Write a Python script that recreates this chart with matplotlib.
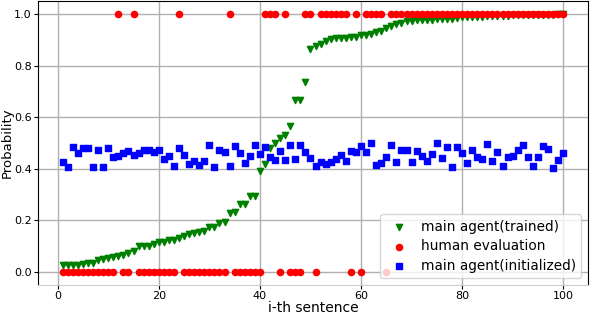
import numpy as np
import matplotlib
matplotlib.use("Agg")
import matplotlib.pyplot as plt

# sentence index
sentences = list(range(1, 101))

# main agent (trained) probabilities
trained = [0.026, 0.026, 0.027, 0.029, 0.031, 0.036, 0.037, 0.045, 0.049, 0.055,
           0.058, 0.063, 0.067, 0.075, 0.080, 0.100, 0.100, 0.103, 0.107, 0.117,
           0.118, 0.123, 0.126, 0.131, 0.139, 0.148, 0.152, 0.156, 0.160, 0.174,
           0.174, 0.190, 0.195, 0.230, 0.234, 0.265, 0.265, 0.294, 0.294, 0.390,
           0.420, 0.480, 0.500, 0.520, 0.530, 0.567, 0.667, 0.667, 0.736, 0.865,
           0.874, 0.883, 0.893, 0.902, 0.905, 0.906, 0.908, 0.910, 0.912, 0.919,
           0.919, 0.922, 0.930, 0.934, 0.946, 0.954, 0.960, 0.964, 0.972, 0.974,
           0.976, 0.977, 0.978, 0.978, 0.979, 0.980, 0.981, 0.982, 0.985, 0.986,
           0.987, 0.988, 0.988, 0.989, 0.990, 0.991, 0.992, 0.993, 0.993, 0.994,
           0.994, 0.995, 0.995, 0.996, 0.996, 0.997, 0.997, 0.997, 0.998, 0.998]

# human evaluation (0/1): sentences judged positive
human_ones = [12, 15, 24, 34, 41, 42, 43, 45, 49, 50, 52, 53, 54, 55, 56, 57,
              59, 61, 62, 63, 64] + list(range(66, 101))
human = [1 if s in human_ones else 0 for s in sentences]

# main agent (initialized) probabilities
initialized = [0.425, 0.406, 0.485, 0.461, 0.481, 0.481, 0.406, 0.474, 0.406, 0.481,
               0.446, 0.451, 0.461, 0.468, 0.454, 0.461, 0.472, 0.474, 0.465, 0.472,
               0.438, 0.448, 0.411, 0.481, 0.452, 0.419, 0.429, 0.414, 0.429, 0.491,
               0.407, 0.471, 0.465, 0.411, 0.490, 0.461, 0.423, 0.451, 0.491, 0.456,
               0.484, 0.446, 0.433, 0.468, 0.436, 0.491, 0.438, 0.491, 0.464, 0.442,
               0.412, 0.427, 0.420, 0.428, 0.438, 0.452, 0.429, 0.468, 0.465, 0.490,
               0.464, 0.500, 0.414, 0.423, 0.446, 0.491, 0.428, 0.474, 0.474, 0.428,
               0.470, 0.450, 0.432, 0.459, 0.500, 0.442, 0.485, 0.407, 0.485, 0.461,
               0.423, 0.474, 0.446, 0.438, 0.495, 0.429, 0.464, 0.412, 0.446, 0.448,
               0.472, 0.494, 0.446, 0.410, 0.446, 0.487, 0.477, 0.403, 0.433, 0.461]

fig = plt.figure(figsize=(5.9, 3.16), dpi=100)
ax = fig.add_axes([0.064, 0.098, 0.933, 0.899])

ax.scatter(sentences, trained, marker='v', color='g', s=20, label='main agent(trained)', zorder=3)
ax.scatter(sentences, human, marker='o', color='r', s=20, label='human evaluation', zorder=3)
ax.scatter(sentences, initialized, marker='s', color='b', s=20, label='main agent(initialized)', zorder=3)

ax.set_xticks([0, 20, 40, 60, 80, 100])
ax.set_yticks([0.0, 0.2, 0.4, 0.6, 0.8, 1.0])
ax.tick_params(labelsize=8, pad=1.5, length=3)
ax.grid(True, color='#b0b0b0', linewidth=1)
ax.set_axisbelow(True)
ax.spines['bottom'].set_color('#cccccc')

ax.set_xlabel('i-th sentence', fontsize=10, labelpad=0)
ax.set_ylabel('Probability', fontsize=9.5)
ax.yaxis.set_label_coords(-0.043, 0.5)
ax.legend(loc='lower right', fontsize=9.8, handletextpad=0.6, labelspacing=0.4,
          borderaxespad=0.5)

fig.savefig('out.png', dpi=100)
